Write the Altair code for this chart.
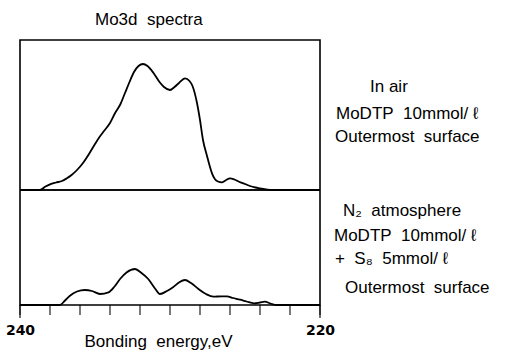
import altair as alt
import pandas as pd

# Upper spectrum: In air, MoDTP 10mmol/l (binding energy eV, intensity a.u.)
air_energy = [240.0, 239.0, 238.67, 238.3, 238.0, 237.6, 237.2, 236.9, 236.56, 236.2,
              235.8, 235.4, 235.0, 234.7, 234.4, 234.0, 233.67, 233.3, 233.0, 232.7,
              232.4, 232.1, 231.8, 231.5, 231.1, 230.7, 230.4, 230.0, 229.7, 229.4,
              229.0, 228.7, 228.5, 228.2, 228.0, 227.8, 227.55, 227.2, 227.0, 226.8,
              226.55, 226.3, 226.0, 225.7, 225.4, 225.0, 224.67, 224.3, 224.0, 223.3,
              222.0, 220.0]
air_intensity = [0, 0, 0, 3.5, 5.7, 7.5, 9, 11.5, 15, 20,
                 27, 36, 46, 53, 59, 67, 76.7, 86, 97, 108,
                 118, 124, 126, 124, 117, 108, 103, 100, 103, 107,
                 111.7, 109, 104, 87, 70, 50, 35, 16.7, 10.7, 8.5,
                 7.7, 9.5, 11.7, 10.5, 8.3, 6, 4, 2.5, 1.7, 0,
                 0, 0]

# Lower spectrum: N2 atmosphere, MoDTP 10mmol/l + S8 5mmol/l
n2_energy = [240.0, 238.0, 237.33, 237.0, 236.67, 236.2, 235.67, 235.2, 234.67, 234.1,
             233.7, 233.33, 232.9, 232.33, 231.9, 231.45, 231.0, 230.67, 230.2, 229.8,
             229.4, 229.0, 228.6, 228.1, 227.6, 227.1, 226.6, 226.2, 225.8, 225.33,
             224.9, 224.4, 224.0, 223.67, 223.3, 222.9, 221.0, 220.0]
n2_intensity = [0, 0, 0, 4.5, 9.3, 13.5, 15, 14, 11, 12.7,
                18.5, 26, 32.5, 36, 32, 26, 16.5, 11, 14, 17.7,
                22.5, 25, 22, 16, 11, 8.3, 8.7, 8.6, 7, 5.3,
                3.5, 1.7, 2.5, 3.3, 1.5, 0, 0, 0]

tick_values = [240, 238, 236, 234, 232, 230, 228, 226, 224, 222, 220]
end_ticks = [240, 220]

S = "\u00a0"
title_text = f"Mo3d{S}{S}spectra"
upper_labels = ["In air", f"MoDTP{S}{S}10mmol/{S}ℓ", f"Outermost{S}{S}surface"]
lower_labels = [f"N₂{S}{S}atmosphere", f"MoDTP{S}{S}10mmol/{S}ℓ", f"+{S}{S}S₈{S}{S}5mmol/{S}ℓ",
                f"Outermost{S}{S}surface"]

air_df = pd.DataFrame({"energy": air_energy, "intensity": air_intensity})
n2_df = pd.DataFrame({"energy": n2_energy, "intensity": n2_intensity})
tick_df = pd.DataFrame({"energy": tick_values})
end_df = pd.DataFrame({"energy": end_ticks})

W, H = 300, 265
FONT = "Liberation Sans"
xscale = alt.Scale(domain=[240, 220], nice=False, zero=False)

xaxis = alt.Axis(
    values=tick_values,
    labelExpr="datum.value == 240 || datum.value == 220 ? datum.label : ''",
    ticks=False, domain=False, grid=False,
    labelFont="DejaVu Sans", labelFontSize=14, labelFontWeight="bold",
    labelColor="black", labelBaseline="middle", labelPadding=25,
    labelFlush=False, labelOverlap=False,
    title=f"Bonding{S}{S}energy,eV", titleFont=FONT, titleFontSize=17,
    titleFontWeight="normal", titleColor="black",
    titleX=138, titleY=36, titleBaseline="middle",
    titleAlign="center",
)

upper = alt.Chart(air_df).mark_line(color="black", strokeWidth=1.8, interpolate="monotone").encode(
    x=alt.X("energy:Q", scale=xscale, axis=xaxis),
    y=alt.Y("intensity:Q", scale=alt.Scale(domain=[-115, 150], nice=False, zero=False), axis=None),
)
lower = alt.Chart(n2_df).mark_line(color="black", strokeWidth=1.8, interpolate="monotone").encode(
    x=alt.X("energy:Q", scale=xscale, axis=xaxis),
    y=alt.Y("intensity:Q", scale=alt.Scale(domain=[0, 265], nice=False, zero=False), axis=None),
)

ticks = alt.Chart(tick_df).mark_tick(color="black", size=10, thickness=1.5).encode(
    x=alt.X("energy:Q", scale=xscale, axis=xaxis),
    y=alt.value(H + 5),
)
ends = alt.Chart(end_df).mark_tick(color="black", size=13, thickness=1.6).encode(
    x=alt.X("energy:Q", scale=xscale, axis=xaxis),
    y=alt.value(H + 6.5),
)

sep = alt.Chart(end_df).mark_rule(color="black", strokeWidth=1.6).encode(
    x=alt.value(0), x2=alt.value(W), y=alt.value(150)
)

layers = [upper, lower, ticks, ends, sep]

def txt(s, px, py, size=17):
    return alt.Chart(pd.DataFrame({"t": [s]})).mark_text(
        align="left", baseline="middle", font=FONT, fontSize=size, color="black"
    ).encode(text="t:N", x=alt.value(px), y=alt.value(py))

layers.append(txt(title_text, 75, -20, 17))
for s, px, py in zip(upper_labels, [350, 316, 315], [47, 74, 97]):
    layers.append(txt(s, px, py))
for s, px, py in zip(lower_labels, [323, 314, 315, 325], [171, 196, 219, 248]):
    layers.append(txt(s, px, py))

chart = alt.layer(*layers).resolve_scale(y="independent").properties(
    width=W, height=H,
    autosize=alt.AutoSizeParams(type="none"),
    padding={"left": 20, "top": 40, "right": 191, "bottom": 49},
    background="white",
).configure_view(stroke="black", strokeWidth=1.6)

chart.save("out.html", embed_options={"renderer": "svg", "actions": False})
